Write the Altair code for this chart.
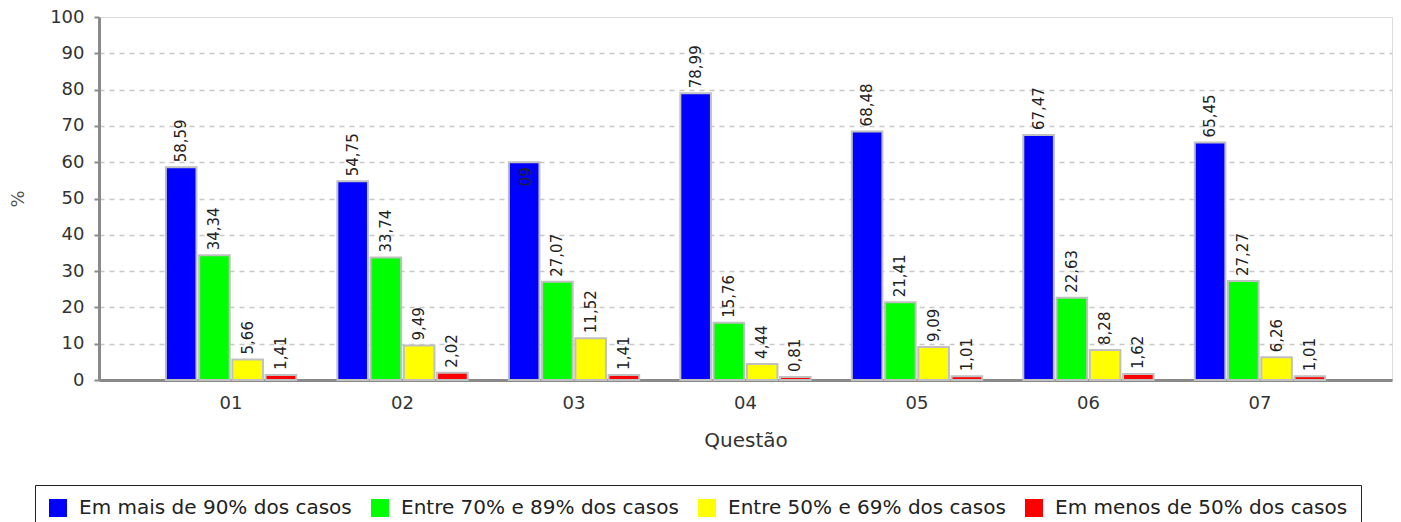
import altair as alt
import pandas as pd

questions = ["01", "02", "03", "04", "05", "06", "07"]
categories = [
    "Em mais de 90% dos casos",
    "Entre 70% e 89% dos casos",
    "Entre 50% e 69% dos casos",
    "Em menos de 50% dos casos",
]
colors = ["#0000FF", "#00FF00", "#FFFF00", "#FF0000"]

mais90 = [58.59, 54.75, 60, 78.99, 68.48, 67.47, 65.45]
entre70_89 = [34.34, 33.74, 27.07, 15.76, 21.41, 22.63, 27.27]
entre50_69 = [5.66, 9.49, 11.52, 4.44, 9.09, 8.28, 6.26]
menos50 = [1.41, 2.02, 1.41, 0.81, 1.01, 1.62, 1.01]

series = [mais90, entre70_89, entre50_69, menos50]
rows = []
for ci, cat in enumerate(categories):
    for qi, q in enumerate(questions):
        rows.append({"q": q, "cat": cat, "v": series[ci][qi], "order": ci})
df = pd.DataFrame(rows)

FONT = "DejaVu Sans"

base = alt.Chart(df).transform_calculate(
    lbl="replace(toString(datum.v), '.', ',')"
).encode(
    x=alt.X(
        "q:N",
        title="Questão",
        sort=questions,
        scale=alt.Scale(paddingInner=0.24, paddingOuter=0.39),
        axis=alt.Axis(
            labelAngle=0,
            ticks=False,
            labelPadding=14,
            labelFontSize=18,
            labelColor="#333333",
            titleFontSize=20,
            titleFontWeight="normal",
            titleColor="#333333",
            titlePadding=18,
            domainColor="#8a8a8a",
            domainWidth=3,
            labelFont=FONT,
            titleFont=FONT,
        ),
    ),
    xOffset=alt.XOffset(
        "cat:N",
        sort=categories,
        scale=alt.Scale(domain=categories, paddingInner=0.08, paddingOuter=0.0),
    ),
    y=alt.Y(
        "v:Q",
        title="%",
        scale=alt.Scale(domain=[0, 100], nice=False),
        axis=alt.Axis(
            values=list(range(0, 101, 10)),
            grid=True,
            gridDash=[5, 5],
            gridColor="#c8c8c8",
            gridWidth=1.5,
            gridOpacity={"condition": {"test": "datum.value >= 100", "value": 0}, "value": 1},
            tickSize=5,
            tickColor="#8a8a8a",
            tickWidth=2,
            labelPadding=10,
            labelFontSize=18,
            labelColor="#333333",
            titleFontSize=18,
            titleFontWeight="normal",
            titleColor="#555555",
            titlePadding=22,
            domainColor="#8a8a8a",
            domainWidth=3,
            labelFont=FONT,
            titleFont=FONT,
        ),
    ),
)

bars = base.mark_bar(stroke="#c0c0c0", strokeWidth=2).encode(
    color=alt.Color(
        "cat:N",
        sort=categories,
        scale=alt.Scale(domain=categories, range=colors),
        legend=alt.Legend(
            title=None,
            orient="none",
            legendX=-64,
            legendY=468,
            direction="horizontal",
            strokeColor="#222222",
            padding=13,
            symbolType="square",
            symbolSize=324,
            symbolStrokeWidth=0,
            labelFontSize=20,
            labelFont=FONT,
            labelColor="#222222",
            labelOffset=11,
            columnPadding=18,
            labelLimit=400,
        ),
    )
)

labels = base.transform_filter("datum.v != 60").mark_text(
    angle=270, align="left", baseline="middle", dx=5, fontSize=15, font=FONT, color="#222222"
).encode(text="lbl:N")

labels_in = base.transform_filter("datum.v == 60").mark_text(
    angle=90, align="left", baseline="middle", dx=5, fontSize=15, font=FONT, color="#222222"
).encode(text="lbl:N")

chart = alt.layer(bars, labels, labels_in).properties(
    width=1293,
    height=363,
    autosize=alt.AutoSizeParams(type="none"),
    padding={"left": 91, "top": 9, "right": 1, "bottom": 150},
).configure_view(stroke="#a8a8a8", strokeWidth=2).configure(background="white")

chart.save("out.html", embed_options={"renderer": "svg", "actions": False})
